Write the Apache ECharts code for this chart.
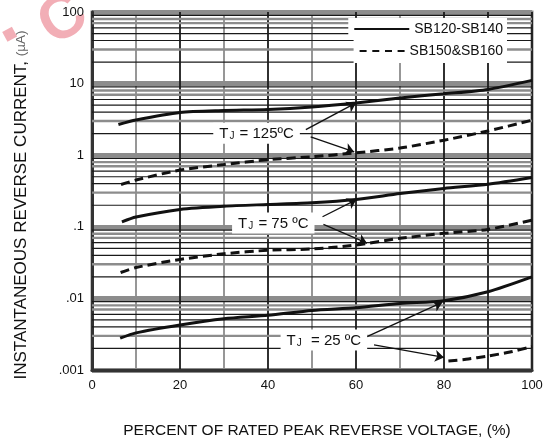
<!DOCTYPE html>
<html>
<head>
<meta charset="utf-8">
<script src="https://cdn.jsdelivr.net/npm/echarts@6/dist/echarts.min.js"></script>
<style>
html,body{margin:0;padding:0;background:#fff;}
#chart{width:553px;height:440px;}
</style>
</head>
<body>
<div id="chart"></div>
<script>
// ---- data (percent of rated peak reverse voltage vs current in µA) ----
const seriesNames = ['SB120-SB140', 'SB150&SB160'];

const solid125X = [6.0, 10, 20, 30, 40, 50, 60, 70, 80, 90, 100];
const solid125Y = [2.68, 3.1, 3.95, 4.2, 4.35, 4.72, 5.37, 6.3, 7.2, 8.3, 11.1];
const dashed125X = [6.6, 10, 20, 30, 40, 50, 60, 70, 80, 90, 100];
const dashed125Y = [0.39, 0.45, 0.62, 0.74, 0.865, 0.95, 1.08, 1.26, 1.62, 2.18, 3.08];

const solid75X = [6.8, 10, 20, 30, 40, 50, 60, 70, 80, 90, 100];
const solid75Y = [0.117, 0.137, 0.175, 0.194, 0.205, 0.216, 0.24, 0.291, 0.343, 0.393, 0.488];
const dashed75X = [6.5, 10, 20, 30, 40, 50, 60, 70, 80, 90, 100];
const dashed75Y = [0.023, 0.027, 0.035, 0.042, 0.047, 0.049, 0.0556, 0.069, 0.081, 0.092, 0.124];

const solid25X = [6.4, 10, 20, 30, 40, 50, 60, 70, 80, 90, 100];
const solid25Y = [0.00278, 0.0033, 0.00426, 0.0052, 0.0058, 0.0068, 0.0074, 0.0085, 0.0093, 0.0124, 0.02];
const dashed25X = [81, 85, 90, 95, 100];
const dashed25Y = [0.00134, 0.00141, 0.00157, 0.00178, 0.00212];

const xTickLabels = ['0', '20', '40', '60', '80', '100'];
const yTickLabels = ['.001', '.01', '.1', '1', '10', '100'];
const decades = [0.001, 0.01, 0.1, 1, 10];
const minorMultipliers = [2, 3, 4, 5, 6, 7, 8, 9];

// annotation text and anchor points (data coordinates)
const annotTemps = ['125', '75', '25'];
const annotX = [37.4, 41.2, 52.7];
const annotY = [2.03, 0.1127, 0.00263];
const arrowSolidFrom = [[48.6, 2.28], [52.4, 0.138], [62.5, 0.00292]];
const arrowSolidTo   = [[60, 5.37], [60.1, 0.24], [79.6, 0.0088]];
const arrowDashFrom  = [[49.7, 1.80], [52.6, 0.108], [64.1, 0.00224]];
const arrowDashTo    = [[59.6, 1.11], [62.5, 0.059], [80, 0.0015]];

// ---- build ----
const FONT = '"Liberation Sans", Arial, Helvetica, sans-serif';
const zip = (xs, ys) => xs.map((x, i) => [x, ys[i]]);
const BLACK = '#1a1a1a', GRAY = '#8c8c8c';
const minorStyle = {2: BLACK, 3: GRAY, 4: BLACK, 5: BLACK, 6: BLACK, 7: GRAY, 8: GRAY, 9: BLACK};

// minor horizontal grid lines drawn as flat line series through the log scale
const minorSeries = [];
decades.forEach(d => minorMultipliers.forEach(m => {
  const c = minorStyle[m];
  const v = d * m;
  minorSeries.push({
    name: 'minor', type: 'line', data: [[0, v], [100, v]], symbol: 'none', showSymbol: false,
    silent: true, z: 1, lineStyle: {color: c, width: c === GRAY ? 2.4 : 1.2, type: 'solid'}
  });
}));

const labelTexts = [
  '{t|T}{s|J}{t| = 125ºC}',
  '{t|T}{s|J}{t| = 75 ºC}',
  '{t|T}{s|J}{t|  = 25 ºC}'
];

const annotPoints = annotTemps.map((t, i) => ({
  coord: [annotX[i], annotY[i]],
  value: t,
  label: {formatter: labelTexts[i]}
}));

const arrowData = [];
for (let i = 0; i < 3; i++) {
  arrowData.push([{coord: arrowSolidFrom[i]}, {coord: arrowSolidTo[i]}]);
  arrowData.push([{coord: arrowDashFrom[i]}, {coord: arrowDashTo[i]}]);
}

const solidStyle = {color: '#111', width: 3, type: 'solid'};
const dashStyle = {color: '#111', width: 3, type: [9, 5]};

function curve(name, xs, ys, style) {
  return {
    name: name, type: 'line', data: zip(xs, ys), showSymbol: false, symbol: 'none',
    smooth: 0.25, lineStyle: style, itemStyle: {color: '#111'}, z: 3, silent: true
  };
}

const solidIcon = 'path://M0,0H55V2H0Z';
const dashIcon = 'path://M0,0h7v2h-7z M12.7,0h7v2h-7z M25.4,0h7v2h-7z M38,0h7v2h-7z';

const chart = echarts.init(document.getElementById('chart'), null, {renderer: 'canvas'});
const option = {
  animation: false,
  backgroundColor: '#fff',
  textStyle: {fontFamily: FONT},
  graphic: [
    {type: 'text', left: 28, top: -18, rotation: 0.55, z: 0,
     style: {text: 'C', font: 'bold 62px ' + FONT, fill: '#f2aeb6'}},
    {type: 'rect', shape: {x: 4, y: 29, width: 11, height: 11}, rotation: 0.5, originX: 9, originY: 34,
     style: {fill: '#f2aeb6'}, z: 0}
  ],
  grid: {left: 92, right: 21, top: 12, bottom: 70, containLabel: false, outerBoundsMode: 'none',
    show: true, borderColor: '#8a8a8a', borderWidth: 3, backgroundColor: 'transparent'},
  legend: [
    {data: [{name: seriesNames[0], icon: solidIcon}], right: 46, top: 18, itemWidth: 55, itemHeight: 2, itemGap: 6,
     padding: [4, 4, 4, 6], backgroundColor: '#fff', selectedMode: false,
     textStyle: {fontSize: 14, color: '#111', fontFamily: FONT}},
    {data: [{name: seriesNames[1], icon: dashIcon}], right: 46, top: 40, itemWidth: 45, itemHeight: 2, itemGap: 6,
     padding: [4, 4, 5, 6], backgroundColor: '#fff', selectedMode: false,
     textStyle: {fontSize: 14, color: '#111', fontFamily: FONT}}
  ],
  xAxis: {
    type: 'value', min: 0, max: 100, interval: 10,
    name: 'PERCENT OF RATED PEAK REVERSE VOLTAGE, (%)', nameLocation: 'middle', nameGap: 53,
    nameTextStyle: {fontSize: 15.5, color: '#111', fontFamily: FONT, padding: [0, 0, 0, 10]},
    axisLine: {show: true, onZero: false, lineStyle: {color: '#333', width: 3}},
    axisTick: {show: false},
    axisLabel: {fontSize: 13, color: '#111', margin: 9, fontFamily: FONT,
      formatter: v => (v % 20 === 0 ? xTickLabels[v / 20] : '')},
    splitLine: {show: true, lineStyle: {width: 1.8,
      color: [BLACK, GRAY, BLACK, GRAY, BLACK, GRAY, BLACK, GRAY, BLACK, BLACK, BLACK]}}
  },
  yAxis: {
    type: 'log', logBase: 10, min: 0.001, max: 100,
    name: '{m|INSTANTANEOUS REVERSE CURRENT, }{u|(µA)}', nameLocation: 'middle', nameGap: 62,
    nameTextStyle: {padding: [0, 28, 0, 0], rich: {
      m: {fontSize: 17, color: '#111', fontFamily: FONT},
      u: {fontSize: 13.5, color: '#666', fontFamily: FONT}
    }},
    axisLine: {show: true, lineStyle: {color: '#333', width: 3}},
    axisTick: {show: false},
    axisLabel: {fontSize: 13, color: '#111', margin: 8, fontFamily: FONT,
      formatter: v => yTickLabels[Math.round(Math.log10(v)) + 3]},
    splitLine: {show: true, lineStyle: {color: GRAY, width: 5}},
    minorTick: {show: false}, minorSplitLine: {show: false}
  },
  series: minorSeries.concat([
    Object.assign(curve(seriesNames[0], solid125X, solid125Y, solidStyle), {
      markPoint: {
        symbol: 'rect', symbolSize: 1, itemStyle: {color: 'rgba(0,0,0,0)'}, silent: true, z: 5,
        label: {show: true, position: 'inside', backgroundColor: '#fff', padding: [3, 6, 2, 6],
          rich: {t: {fontSize: 15, color: '#111', fontFamily: FONT},
                 s: {fontSize: 10, color: '#111', fontFamily: FONT, padding: [6, 1, 0, 1]}}},
        data: annotPoints
      },
      markLine: {
        silent: true, symbol: ['none', 'arrow'], symbolSize: 9, label: {show: false},
        lineStyle: {color: '#111', width: 1.3, type: 'solid'}, data: arrowData
      }
    }),
    curve(seriesNames[1], dashed125X, dashed125Y, dashStyle),
    curve(seriesNames[0], solid75X, solid75Y, solidStyle),
    curve(seriesNames[1], dashed75X, dashed75Y, dashStyle),
    curve(seriesNames[0], solid25X, solid25Y, solidStyle),
    curve(seriesNames[1], dashed25X, dashed25Y, dashStyle)
  ])
};
chart.setOption(option);
</script>
</body>
</html>
